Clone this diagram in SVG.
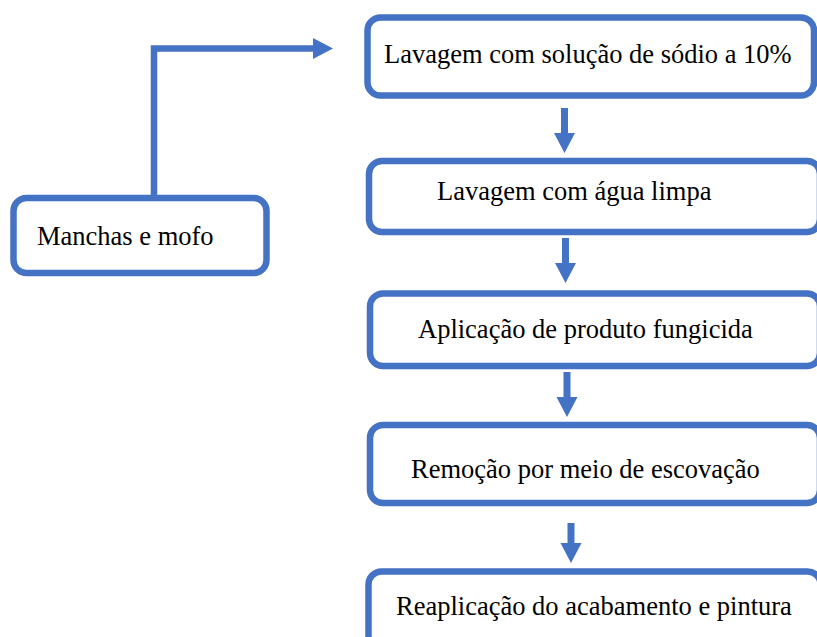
<svg xmlns="http://www.w3.org/2000/svg" width="817" height="637" viewBox="0 0 817 637">
<style>
.box{fill:#ffffff;stroke:#4472C4;stroke-width:6.5}
.lbl{font-family:"Liberation Serif","Times New Roman",serif;font-size:26.5px;fill:#000000}
.conn{fill:none;stroke:#4472C4;stroke-width:6.5}
.arr{fill:#4472C4;stroke:none}
</style>
<rect width="817" height="637" fill="#ffffff"/>
<g id="connectors">
<path class="conn" d="M154,198 V48.5 H315"/>
<polygon class="arr" points="313,38 333,48.5 313,59"/>
<polygon class="arr" points="561,108 568,108 568,133 575,133 564.5,153 554,133 561,133"/>
<polygon class="arr" points="562,238 569,238 569,263 576,263 565.5,283 555,263 562,263"/>
<polygon class="arr" points="563.5,372 570.5,372 570.5,397 577.5,397 567,417 556.5,397 563.5,397"/>
<polygon class="arr" points="567.5,523 574.5,523 574.5,543 581.5,543 571,563 560.5,543 567.5,543"/>
</g>
<g id="n0">
<rect class="box" x="13.5" y="198" width="253" height="75" rx="13"/>
<text class="lbl" x="37" y="245">Manchas e mofo</text>
</g>
<g id="n1">
<rect class="box" x="367.5" y="17.5" width="446.5" height="78" rx="13"/>
<text class="lbl" x="384" y="63">Lavagem com solução de sódio a 10%</text>
</g>
<g id="n2">
<rect class="box" x="369" y="161" width="451" height="71" rx="13"/>
<text class="lbl" x="437" y="200">Lavagem com água limpa</text>
</g>
<g id="n3">
<rect class="box" x="370" y="293.5" width="450" height="72.5" rx="13"/>
<text class="lbl" x="418" y="338">Aplicação de produto fungicida</text>
</g>
<g id="n4">
<rect class="box" x="370" y="425" width="450" height="78" rx="13"/>
<text class="lbl" x="411" y="478">Remoção por meio de escovação</text>
</g>
<g id="n5">
<rect class="box" x="368.5" y="571.5" width="452" height="80" rx="13"/>
<text class="lbl" x="396" y="615">Reaplicação do acabamento e pintura</text>
</g>
</svg>
